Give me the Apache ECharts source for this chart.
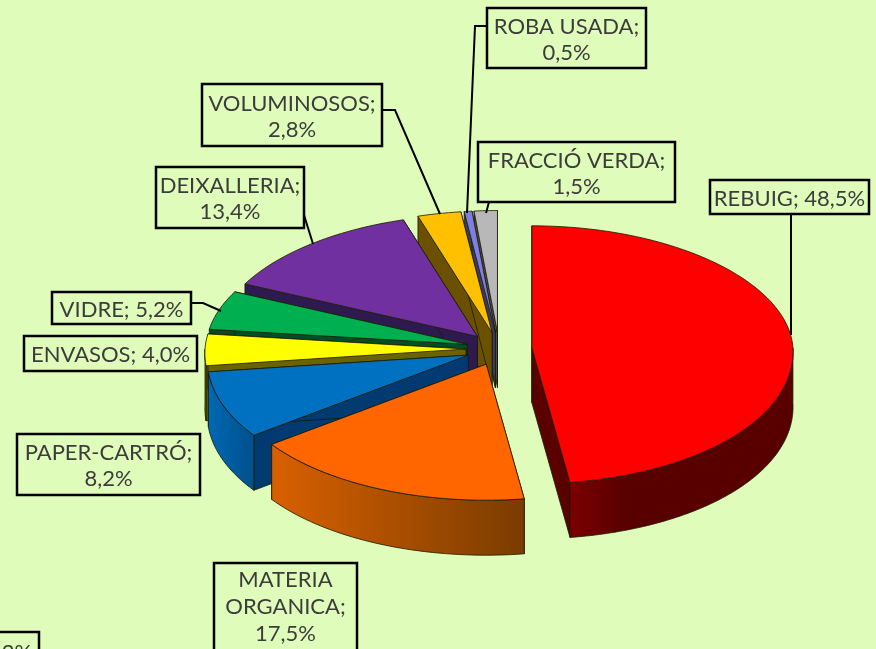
<!DOCTYPE html>
<html><head><meta charset="utf-8">
<style>html,body{margin:0;padding:0;background:#E0FCBA}#c{width:876px;height:649px}</style>
<script src="https://cdn.jsdelivr.net/npm/echarts@6/dist/echarts.min.js"></script>
</head><body><div id="c"></div>
<script>
var categories = ['REBUIG','MATERIA ORGANICA','PAPER-CARTRÓ','ENVASOS','VIDRE','DEIXALLERIA','VOLUMINOSOS','ROBA USADA','FRACCIÓ VERDA'];
var values = [48.5,17.5,8.2,4.0,5.2,13.4,2.8,0.5,1.5];
var topColors = ['#FF0000','#FF6600','#0070C0','#FFFF00','#00B050','#7030A0','#FFC000','#7F7FDF','#B8B8B8'];
var wallColors = ['#5A0000','#7A3A00','#003A70','#6B6300','#004D26','#2F1A50','#6B5000','#3A3A6E','#505050'];
var outerColors = [['#7C0000','#580000'],['#D96000','#7A3C00'],['#0068B4','#00508C'],['#8A8A00','#6B6B00'],['#007038','#005028'],['#4A2070','#3A1860'],['#8A6A00','#6B5000'],['#50509A','#3A3A6E'],['#808080','#606060']];
var outerMidStops = [0.25,1,1,1,1,1,1,1,1];
var labelBoxes = [[710,180,869,214],[214,563,357,655],[17,434,200,495],[24,336,197,371],[52,292,191,324],[156,167,304,228],[202,84,382,146],[487,8,646,68],[478,142,675,202]];
var labelTexts = ['REBUIG; 48,5%','MATERIA\nORGANICA;\n17,5%','PAPER-CARTRÓ;\n8,2%','ENVASOS; 4,0%','VIDRE; 5,2%','DEIXALLERIA;\n13,4%','VOLUMINOSOS;\n2,8%','ROBA USADA;\n0,5%','FRACCIÓ VERDA;\n1,5%'];
var leaders = [[[791,214],[791,335]],null,null,null,[[191,303],[203,303],[221,311]],[[304,215],[313,244]],[[382,110],[395,110],[440,214]],[[487,26],[475,26],[467,213]],[[489,202],[486,213]]];

var CX=499, CY=349, R=261, RY_BACK=122, RY_FRONT=136, DEPTH=55, EXPLODE=33, PERSPECTIVE=0.03;
var FONT='22px Lato, "Open Sans", sans-serif', INK='#3C3C3C', BG='#E0FCBA';
var total=values.reduce(function(a,b){return a+b;},0);
var starts=[], acc=0;
values.forEach(function(v){starts.push(acc);acc+=v;});
function rad(v){return v/total*2*Math.PI;}
function pt(ax,ay,t,dy){
  var c=Math.cos(t);
  return [ax+R*(1-PERSPECTIVE*c)*Math.sin(t), ay-(c>0?RY_BACK:RY_FRONT)*c+(dy||0)];
}
function sliceItem(params,api){
  var i=params.dataIndex, v=api.value(0);
  var a0=rad(starts[i]), a1=a0+rad(v), m=(a0+a1)/2;
  var ax=CX+EXPLODE*Math.sin(m), ay=CY-EXPLODE*0.5*Math.cos(m);
  var base=(categories.length-i)*10, kids=[], N=Math.max(6,Math.ceil((a1-a0)*40));
  var topPts=[[ax,ay]], k, t;
  for(k=0;k<=N;k++){topPts.push(pt(ax,ay,a0+(a1-a0)*k/N));}
  var stroke={stroke:'#1a1a00',lineWidth:0.8,lineJoin:'round'};
  function wall(p,fill,z){kids.push({type:'polygon',z2:base+z,shape:{points:p},style:Object.assign({fill:fill},stroke)});}
  var p0=pt(ax,ay,a0),p1=pt(ax,ay,a1);
  wall([[ax,ay],p0,[p0[0],p0[1]+DEPTH],[ax,ay+DEPTH]],wallColors[i],1);
  wall([[ax,ay],p1,[p1[0],p1[1]+DEPTH],[ax,ay+DEPTH]],wallColors[i],2);
  var f0=Math.max(a0,Math.PI/2), f1=Math.min(a1,Math.PI*1.5);
  if(f1>f0){
    var up=[],dn=[];
    for(k=0;k<=N;k++){t=f0+(f1-f0)*k/N;up.push(pt(ax,ay,t));dn.unshift(pt(ax,ay,t,DEPTH));}
    var c=outerColors[i];
    wall(up.concat(dn),{type:'linear',x:0,y:0,x2:1,y2:0,colorStops:[{offset:0,color:c[0]},{offset:outerMidStops[i],color:c[1]},{offset:1,color:c[1]}]},3);
  }
  wall(topPts,topColors[i],4);
  return {type:'group',children:kids};
}
function labelItem(params){
  var i=params.dataIndex,b=labelBoxes[i],kids=[];
  if(leaders[i]){kids.push({type:'polyline',z2:200,shape:{points:leaders[i]},style:{stroke:'#000',lineWidth:2,fill:null}});}
  kids.push({type:'rect',z2:201,shape:{x:b[0],y:b[1],width:b[2]-b[0],height:b[3]-b[1]},style:{fill:BG,stroke:'#000',lineWidth:2.5}});
  kids.push({type:'text',z2:202,style:{text:labelTexts[i],x:(b[0]+b[2])/2,y:i===1?607:(b[1]+b[3])/2+1.5,align:'center',verticalAlign:'middle',font:FONT,lineHeight:i===1?27:26,fill:INK}});
  return {type:'group',children:kids};
}
var chart=echarts.init(document.getElementById('c'),null,{renderer:'canvas'});
chart.setOption({
  backgroundColor:BG,animation:false,
  graphic:[{type:'group',silent:true,z:10,children:[
    {type:'rect',shape:{x:-60,y:632,width:99,height:60},style:{fill:BG,stroke:'#000',lineWidth:2.5}},
    {type:'text',style:{text:'2%',x:17,y:653,align:'center',verticalAlign:'middle',font:FONT,fill:INK}}
  ]}],
  series:[
    {type:'custom',coordinateSystem:'none',silent:true,data:values.map(function(v){return [v];}),renderItem:sliceItem,z:2},
    {type:'custom',coordinateSystem:'none',silent:true,data:values.map(function(v){return [v];}),renderItem:labelItem,z:3}
  ]
});
</script></body></html>
